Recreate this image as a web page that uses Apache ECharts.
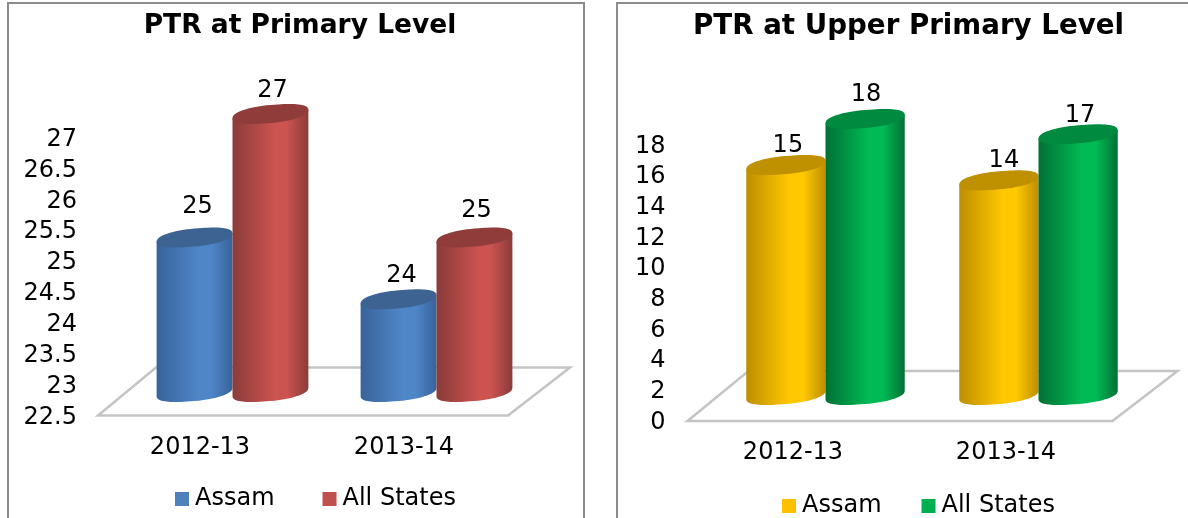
<!DOCTYPE html>
<html>
<head>
<meta charset="utf-8">
<style>html,body{margin:0;padding:0;background:#fff;overflow:hidden}#c{width:1188px;height:518px}</style>
<script src="https://cdn.jsdelivr.net/npm/echarts@6/dist/echarts.min.js"></script>
</head>
<body>
<div id="c"></div>
<script>
const categories = ['2012-13', '2013-14'];
const seriesNames = ['Assam', 'All States'];
const primaryAssam = [25, 24];
const primaryAllStates = [27, 25];
const upperAssam = [15, 14];
const upperAllStates = [18, 17];
const titles = ['PTR at Primary Level', 'PTR at Upper Primary Level'];

const FONT = '"DejaVu Sans", Verdana, sans-serif';
const FS = 24;

const palette = {
  blue:   {edge: '#38639a', mid: '#4f86c8', top: '#3c6391', key: '#4f81bd'},
  red:    {edge: '#8a3c3a', mid: '#cb5350', top: '#8f3c3a', key: '#c0504d'},
  yellow: {edge: '#bd8e00', mid: '#ffc800', top: '#bf9000', key: '#ffc000'},
  green:  {edge: '#007035', mid: '#00bb55', top: '#008a40', key: '#00b050'}
};

// floor depth and cylinder shift per panel
const depth = [[62, 48], [65, 50]];
const barShift = [[32.5, 24], [32.5, 25]];
// hand placed label nudges from the original, separate from the data
const labelNudge = {
  p0: [[3, -7], [3, 0]],
  p1: [[2, 1], [2, -3]],
  u0: [[2, 5], [5, 4]],
  u1: [[1, 0], [2, 5]]
};

function ellipsePts(cx, cy, rx, ry, s, from, to, n) {
  const pts = [];
  const pw = (v) => Math.sign(v) * Math.pow(Math.abs(v), 0.88);
  for (let i = 0; i <= n; i++) {
    const t = from + (to - from) * i / n;
    const c = Math.cos(t), si = Math.sin(t);
    pts.push([cx + rx * pw(c), cy + ry * pw(si) - s * c]);
  }
  return pts;
}

function cylinder(gridIndex, side, colors, nudges) {
  return function (params, api) {
    const cat = api.value(0), val = api.value(1);
    const band = api.size([1, 0])[0];
    const rx = band * 0.186;
    const dx = barShift[gridIndex][0], dy = barShift[gridIndex][1];
    const topP = api.coord([cat, val]);
    const baseP = api.coord([cat, gridIndex === 0 ? 22.5 : 0]);
    const cx = topP[0] + dx + side * rx;
    const ty = topP[1] - dy, by = baseP[1] - dy;
    const ry = 9, s = 4.2;
    const front = ellipsePts(cx, by, rx, ry, s, 0, Math.PI, 40);
    const body = [[cx - rx, ty + s], [cx + rx, ty - s]].concat(front);
    const nudge = nudges[params.dataIndex];
    return {
      type: 'group',
      children: [
        {
          type: 'polygon',
          shape: {points: body},
          style: {
            fill: new echarts.graphic.LinearGradient(0, 0, 1, 0, [
              {offset: 0, color: colors.edge},
              {offset: 0.55, color: colors.mid},
              {offset: 0.72, color: colors.mid},
              {offset: 1, color: colors.edge}
            ])
          }
        },
        {
          type: 'polygon',
          shape: {points: ellipsePts(cx, ty, rx, ry, s, 0, Math.PI * 2, 80)},
          style: {fill: colors.top}
        },
        {
          type: 'text',
          style: {
            text: String(val),
            x: cx + nudge[0],
            y: ty - 24 + nudge[1],
            align: 'center',
            verticalAlign: 'middle',
            font: FS + 'px ' + FONT,
            fill: '#000'
          }
        }
      ]
    };
  };
}

function floor(gridIndex) {
  return function (params) {
    const c = params.coordSys;
    const d = depth[gridIndex];
    const x0 = c.x + (gridIndex ? 1 : 0), x1 = c.x + c.width, y = c.y + c.height + (gridIndex ? 1 : -0.5);
    const xr = x1 + (gridIndex ? 0 : 2);
    return {
      type: 'polygon',
      shape: {points: [[x0, y], [xr, y], [xr + d[0], y - d[1]], [x0 + d[0] - 4, y - d[1]]]},
      style: {fill: '#fff', stroke: '#c4c4c4', lineWidth: 2.5},
      silent: true
    };
  };
}

const pairs = (vals) => vals.map((v, i) => [i, v]);

function custom(gridIndex, name, vals, side, colors, nudges) {
  return {
    type: 'custom',
    name: name,
    xAxisIndex: gridIndex,
    yAxisIndex: gridIndex,
    coordinateSystem: 'cartesian2d',
    encode: {x: 0, y: 1},
    itemStyle: {color: colors.key},
    clip: false,
    renderItem: cylinder(gridIndex, side, colors, nudges),
    data: pairs(vals),
    z: 3
  };
}

function floorSeries(gridIndex, low) {
  return {
    type: 'custom',
    name: 'floor' + gridIndex,
    xAxisIndex: gridIndex,
    yAxisIndex: gridIndex,
    coordinateSystem: 'cartesian2d',
    encode: {x: 0, y: 1},
    clip: false,
    renderItem: floor(gridIndex),
    data: [[0, low]],
    silent: true,
    z: 1
  };
}

const axisText = {color: '#000', fontFamily: FONT, fontSize: FS};

function xAxis(gridIndex, margin) {
  return {
    type: 'category', gridIndex: gridIndex, data: categories,
    axisLine: {show: false}, axisTick: {show: false}, splitLine: {show: false},
    axisLabel: Object.assign({margin: margin, interval: 0}, axisText)
  };
}

function yAxis(gridIndex, min, max, interval, lh) {
  return {
    type: 'value', gridIndex: gridIndex, min: min, max: max, interval: interval,
    axisLine: {show: false}, axisTick: {show: false}, splitLine: {show: false},
    axisLabel: Object.assign({margin: 21, verticalAlign: 'top', lineHeight: lh, showMinLabel: true, showMaxLabel: true}, axisText)
  };
}

function legend(left, top, colors, gap) {
  return {
    left: left, top: top, orient: 'horizontal', itemGap: gap,
    itemWidth: 14, itemHeight: 14, icon: 'rect', padding: 0, selectedMode: false,
    textStyle: {color: '#000', fontFamily: FONT, fontSize: FS, padding: [0, 0, 0, 1]},
    data: seriesNames.map((n, i) => ({name: n, itemStyle: {color: colors[i]}}))
  };
}

const chart = echarts.init(document.getElementById('c'), null, {renderer: 'canvas'});
chart.setOption({
  animation: false,
  backgroundColor: '#fff',
  title: [
    {text: titles[0], left: 300, top: 13, textAlign: 'center', padding: 0,
     textStyle: {color: '#000', fontFamily: FONT, fontSize: 26.5, fontWeight: 'bold'}},
    {text: titles[1], left: 908.5, top: 13, textAlign: 'center', padding: 0,
     textStyle: {color: '#000', fontFamily: FONT, fontSize: 27.7, fontWeight: 'bold'}}
  ],
  grid: [
    {left: 98, width: 408, top: 138, height: 278},
    {left: 686.5, width: 426, top: 144, height: 276}
  ],
  xAxis: [xAxis(0, 20), xAxis(1, 21)],
  yAxis: [yAxis(0, 22.5, 27, 0.5, 3), yAxis(1, 0, 18, 2, 5)],
  legend: [
    legend(175, 487, [palette.blue.key, palette.red.key], 48),
    legend(782, 494, [palette.yellow.key, palette.green.key], 40)
  ],
  graphic: [
    {type: 'rect', shape: {x: 8, y: 3, width: 576, height: 560},
     style: {fill: 'none', stroke: '#8c8c8c', lineWidth: 2}, silent: true, z: -1},
    {type: 'rect', shape: {x: 617, y: 3, width: 620, height: 560},
     style: {fill: 'none', stroke: '#8c8c8c', lineWidth: 2}, silent: true, z: -1}
  ],
  series: [
    floorSeries(0, 22.5),
    floorSeries(1, 0),
    custom(0, seriesNames[0], primaryAssam, -1, palette.blue, labelNudge.p0),
    custom(0, seriesNames[1], primaryAllStates, 1, palette.red, labelNudge.p1),
    custom(1, seriesNames[0], upperAssam, -1, palette.yellow, labelNudge.u0),
    custom(1, seriesNames[1], upperAllStates, 1, palette.green, labelNudge.u1)
  ]
});
</script>
</body>
</html>
